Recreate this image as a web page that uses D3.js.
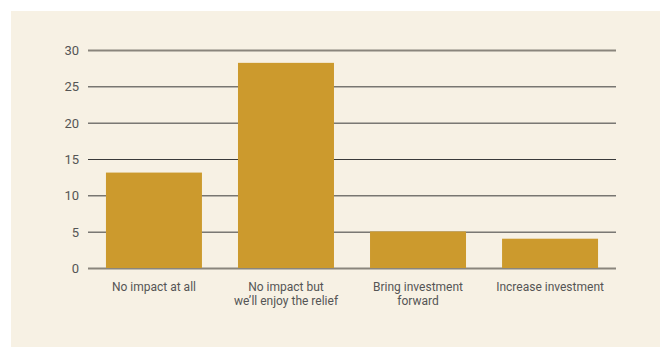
<!DOCTYPE html>
<html>
<head>
<meta charset="utf-8">
<script src="https://cdn.jsdelivr.net/npm/d3@7"></script>
<style>
  body { margin: 0; background: #fff; }
  text { font-family: "Liberation Sans Narrow", "Roboto", sans-serif; }
</style>
</head>
<body>
<svg id="chart" width="660" height="347"></svg>
<script>
// chart data
var categories = ["No impact at all", "No impact but|we\u2019ll enjoy the relief", "Bring investment|forward", "Increase investment"];
var values = [13.2, 28.3, 5.1, 4.1];
var yTicks = [0, 5, 10, 15, 20, 25, 30];

var svg = d3.select("#chart");

// cream panel
svg.append("rect")
  .attr("x", 11).attr("y", 11)
  .attr("width", 649).attr("height", 336)
  .attr("fill", "#f7f1e4");

var x = d3.scaleBand()
  .domain(categories)
  .range([88, 616])
  .paddingInner(0.273)
  .paddingOuter(0.136);

var y = d3.scaleLinear()
  .domain([0, 30])
  .range([268.5, 50.5]);

// gridlines
svg.append("g").selectAll("line")
  .data(yTicks)
  .enter()
  .append("line")
  .attr("x1", 88).attr("x2", 616)
  .attr("y1", function(d) { return y(d); })
  .attr("y2", function(d) { return y(d); })
  .attr("stroke", function(d) { return (d === 0 || d === 30) ? "#8a857c" : "#3a3a3a"; })
  .attr("stroke-width", function(d) { return (d === 0 || d === 30) ? 2 : 1; });

// y tick labels
svg.append("g").selectAll("text")
  .data(yTicks)
  .enter()
  .append("text")
  .attr("x", 79)
  .attr("y", function(d) { return y(d); })
  .attr("dy", "0.35em")
  .attr("text-anchor", "end")
  .attr("font-size", 13)
  .attr("fill", "#555")
  .text(function(d) { return d; });

// bars
svg.append("g").selectAll("rect")
  .data(values)
  .enter()
  .append("rect")
  .attr("x", function(d, i) { return x(categories[i]); })
  .attr("y", function(d) { return y(d); })
  .attr("width", x.bandwidth())
  .attr("height", function(d) { return y(0) - y(d) - 0.5; })
  .attr("fill", "#cc9a2d");

// category labels, split on |
var labels = svg.append("g").selectAll("text")
  .data(categories)
  .enter()
  .append("text")
  .attr("text-anchor", "middle")
  .attr("font-size", 12)
  .attr("fill", "#555")
  .attr("transform", function(d) { return "translate(" + (x(d) + x.bandwidth() / 2) + ",290.5)"; });

labels.selectAll("tspan")
  .data(function(d) { return d.split("|"); })
  .enter()
  .append("tspan")
  .attr("x", 0)
  .attr("dy", function(d, i) { return i === 0 ? 0 : 14; })
  .text(function(d) { return d; });
</script>
</body>
</html>
